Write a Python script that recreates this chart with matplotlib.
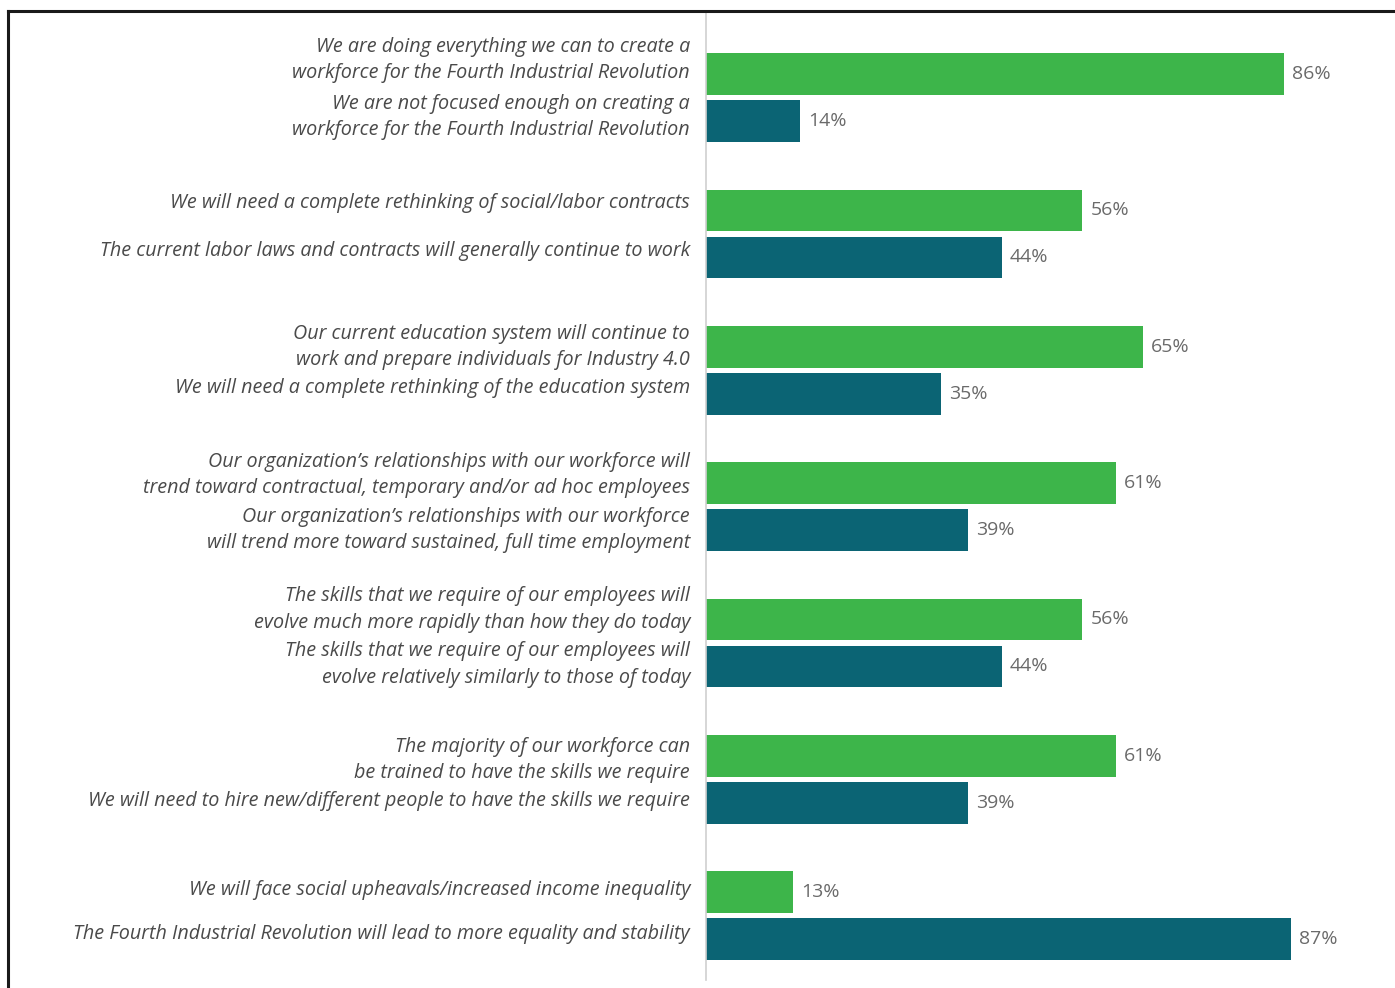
import matplotlib
matplotlib.use("Agg")
import matplotlib.pyplot as plt
from matplotlib.lines import Line2D
from matplotlib.transforms import offset_copy
import numpy as np

# Paired survey statements (upper statement, lower statement) and their shares in percent
upper_labels = [
    "We are doing everything we can to create a\nworkforce for the Fourth Industrial Revolution",
    "We will need a complete rethinking of social/labor contracts",
    "Our current education system will continue to\nwork and prepare individuals for Industry 4.0",
    "Our organization\u2019s relationships with our workforce will\ntrend toward contractual, temporary and/or ad hoc employees",
    "The skills that we require of our employees will\nevolve much more rapidly than how they do today",
    "The majority of our workforce can\nbe trained to have the skills we require",
    "We will face social upheavals/increased income inequality",
]
lower_labels = [
    "We are not focused enough on creating a\nworkforce for the Fourth Industrial Revolution",
    "The current labor laws and contracts will generally continue to work",
    "We will need a complete rethinking of the education system",
    "Our organization\u2019s relationships with our workforce\nwill trend more toward sustained, full time employment",
    "The skills that we require of our employees will\nevolve relatively similarly to those of today",
    "We will need to hire new/different people to have the skills we require",
    "The Fourth Industrial Revolution will lead to more equality and stability",
]
upper_values = [86, 56, 65, 61, 56, 61, 13]
lower_values = [14, 44, 35, 39, 44, 39, 87]

GREEN = "#3db54a"
TEAL = "#0b6474"
LABEL_COLOR = "#4a4a4a"
VALUE_COLOR = "#6a6a6a"

W, H, DPI = 1395, 988, 100
fig = plt.figure(figsize=(W / DPI, H / DPI), dpi=DPI)
fig.patch.set_facecolor("white")

ax_left, ax_right = 706 / W, 1378 / W
ax_top, ax_bottom = 1 - 12 / H, 1 - 980 / H
ax = fig.add_axes([ax_left, ax_bottom, ax_right - ax_left, ax_top - ax_bottom])

n = len(upper_values)
group = np.arange(n) * 1.0
pair_gap = 0.345
bar_h = 0.305
y_upper = group
y_lower = group + pair_gap

ax.barh(y_upper, upper_values, height=bar_h, color=GREEN, edgecolor="none")
ax.barh(y_lower, lower_values, height=bar_h, color=TEAL, edgecolor="none")

ax.set_xlim(0, 100)
ax.set_ylim(-0.455 + 7.10, -0.455)

for s in ["top", "right", "bottom"]:
    ax.spines[s].set_visible(False)
ax.spines["left"].set_color("#cfcfcf")
ax.spines["left"].set_linewidth(1.2)
ax.set_xticks([])
ax.set_yticks([])

# small vertical nudges (in pixels, positive = up) for the statement labels
upper_nudge = [14, 7, 0, 8, 10, -4, 2]
lower_nudge = [4, 6, 6, 0, 2, 2, 5]

value_tr = offset_copy(ax.transData, fig=fig, x=8, y=0, units="dots")

font = dict(family=["Open Sans", "DejaVu Sans"], style="italic")
for ys, labels, values, nudges in [(y_upper, upper_labels, upper_values, upper_nudge),
                                   (y_lower, lower_labels, lower_values, lower_nudge)]:
    for y, lab, v, dy in zip(ys, labels, values, nudges):
        label_tr = offset_copy(ax.transData, fig=fig, x=-16, y=dy, units="dots")
        ax.text(0, y, lab, transform=label_tr, ha="right", va="center",
                fontsize=14.2, color=LABEL_COLOR, linespacing=1.42, **font)
        ax.text(v, y, f"{v}%", transform=value_tr, ha="left", va="center",
                fontsize=14, color=VALUE_COLOR, family=["Open Sans", "DejaVu Sans"])

# Outer frame (top and left edges)
fig.add_artist(Line2D([8 / W, 1.0], [1 - 11 / H, 1 - 11 / H], color="#1a1a1a",
                      linewidth=2.2, transform=fig.transFigure))
fig.add_artist(Line2D([8 / W, 8 / W], [1 - 11 / H, 0.0], color="#1a1a1a",
                      linewidth=2.2, transform=fig.transFigure))

fig.savefig("out.png", dpi=DPI, facecolor="white")
